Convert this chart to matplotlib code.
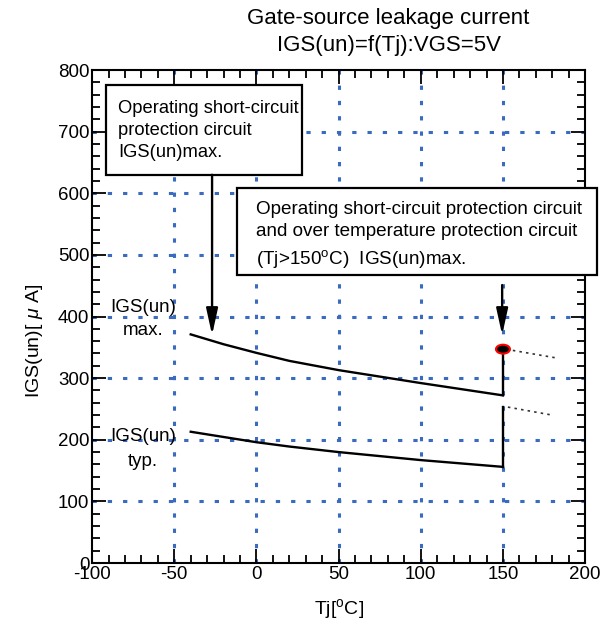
import matplotlib
matplotlib.use('Agg')
import matplotlib.pyplot as plt
from matplotlib.patches import Rectangle, Ellipse
from matplotlib.ticker import MultipleLocator

plt.rcParams['font.family'] = ['Liberation Sans', 'DejaVu Sans']
plt.rcParams['mathtext.fontset'] = 'custom'
plt.rcParams['mathtext.rm'] = 'Liberation Sans'
plt.rcParams['mathtext.it'] = 'Liberation Sans:italic'
plt.rcParams['axes.unicode_minus'] = False

## curve data (Tj in degC, IGS in uA)
tj_max = [-40, -20, 0, 20, 50, 100, 150]
igs_max = [371, 355, 341, 328, 313, 292, 272]
tj_typ = [-40, 0, 20, 50, 100, 150]
igs_typ = [213, 196, 189, 180, 167, 156]

# jump at Tj = 150 when the protection circuits are operating
tj_jump = 150
igs_jump_max = [272, 347]
igs_jump_typ = [156, 253]

# dotted extensions above 150 degC
ext_max_tj = [156, 182]
ext_max_igs = [345, 333]
ext_typ_tj = [153, 180]
ext_typ_igs = [253, 240]

xticks = [-100, -50, 0, 50, 100, 150, 200]
yticks = [0, 100, 200, 300, 400, 500, 600, 700, 800]

grid_col = '#3a6bbf'

fig = plt.figure(figsize=(6.14, 6.28), dpi=100)
ax = fig.add_axes([0.150, 0.1035, 0.803, 0.785])

ax.set_xlim(-100, 200)
ax.set_ylim(0, 800)
ax.set_xticks(xticks)
ax.set_yticks(yticks)
ax.xaxis.set_minor_locator(MultipleLocator(10))
ax.yaxis.set_minor_locator(MultipleLocator(20))
ax.tick_params(which='both', direction='in', top=True, right=True, labelsize=13.5, width=1.3)
ax.tick_params(which='major', length=10, pad=2)
ax.tick_params(which='minor', length=6)
for sp in ax.spines.values():
    sp.set_linewidth(1.5)

# blue dotted grid
for x in xticks[1:-1]:
    ax.plot([x, x], [0, 800], color=grid_col, lw=2.2, dashes=(1.4, 3.6), zorder=1)
for y in yticks[1:-1]:
    ax.plot([-100, 200], [y, y], color=grid_col, lw=2.2, dashes=(1.4, 3.6), zorder=1)

# curves
ax.plot(tj_max, igs_max, color='black', lw=1.7, zorder=3)
ax.plot(tj_typ, igs_typ, color='black', lw=1.7, zorder=3)
ax.plot([tj_jump, tj_jump], igs_jump_max, color='black', lw=1.7, zorder=3)
ax.plot([tj_jump, tj_jump], igs_jump_typ, color='black', lw=1.7, zorder=3)
ax.plot(ext_max_tj, ext_max_igs, color='#333333', lw=1.2, dashes=(1.5, 2.5), zorder=3)
ax.plot(ext_typ_tj, ext_typ_igs, color='#333333', lw=1.2, dashes=(1.5, 2.5), zorder=3)
ax.add_patch(Ellipse((tj_jump, igs_jump_max[1]), 8.5, 14.5, facecolor='black',
                     edgecolor='red', lw=1.5, zorder=4))

ax.text(-69, 415, 'IGS(un)', fontsize=13.5, ha='center', va='center')
ax.text(-69, 377, 'max.', fontsize=13.5, ha='center', va='center')
ax.text(-69, 205, 'IGS(un)', fontsize=13.5, ha='center', va='center')
ax.text(-69, 165, 'typ.', fontsize=13.5, ha='center', va='center')

# annotation boxes
ax.add_patch(Rectangle((-91.5, 630), 119.3, 146, facecolor='white', edgecolor='black',
                       lw=1.6, zorder=5))
ax.text(-84, 702, 'Operating short-circuit\nprotection circuit\nIGS(un)max.',
        fontsize=13.2, ha='left', va='center', linespacing=1.4, zorder=6)
ax.add_patch(Rectangle((-11.7, 467.5), 218.7, 141.5, facecolor='white', edgecolor='black',
                       lw=1.6, zorder=5, clip_on=False))
ax.text(-0.5, 532, 'Operating short-circuit protection circuit\n'
        'and over temperature protection circuit\n(Tj>150$^\\mathrm{o}$C)  IGS(un)max.',
        fontsize=13.6, ha='left', va='center', linespacing=1.45, zorder=6)

arrow = dict(arrowstyle='-|>,head_length=1.0,head_width=0.22', color='black', lw=1.7,
             mutation_scale=16, shrinkA=0, shrinkB=0)
ax.annotate('', xy=(-27, 370), xytext=(-27, 630), arrowprops=arrow, zorder=6)
ax.annotate('', xy=(149.5, 370), xytext=(149.5, 451), arrowprops=arrow, zorder=6)

ax.set_xlabel('Tj[$^\\mathrm{o}$C]', fontsize=14, labelpad=10)
ax.set_ylabel('IGS(un)[ $\\mu$ A]', fontsize=14)
ax.yaxis.set_label_coords(-0.095, 0.45)
fig.text(0.633, 0.971, 'Gate-source leakage current', fontsize=16, ha='center', va='center')
fig.text(0.633, 0.928, 'IGS(un)=f(Tj):VGS=5V', fontsize=16, ha='center', va='center')

fig.savefig('out.png', dpi=100)
